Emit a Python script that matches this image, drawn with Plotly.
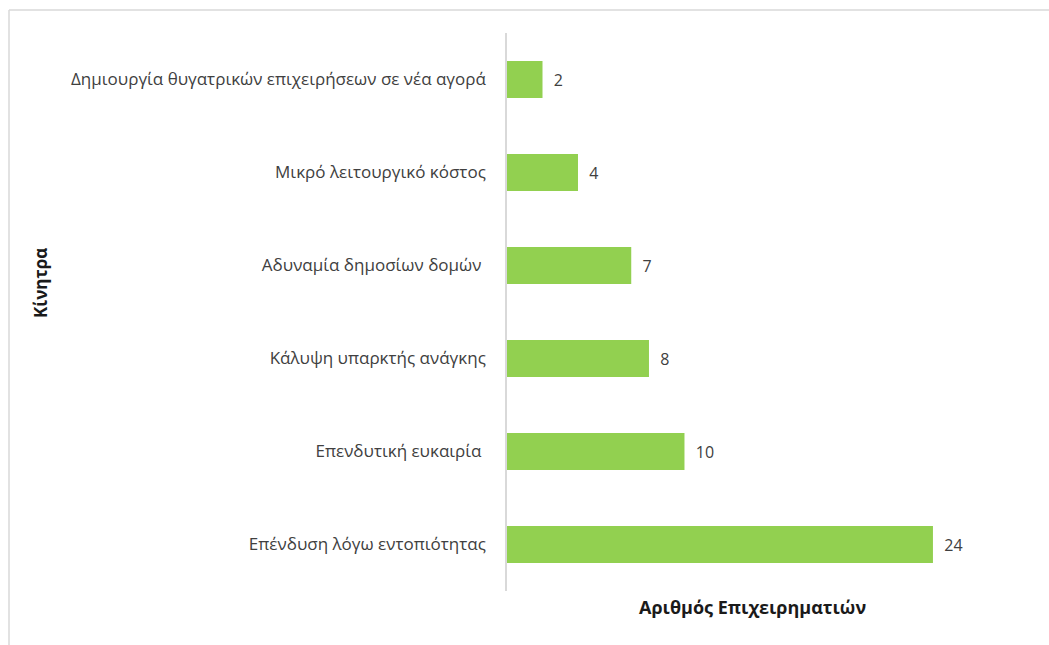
import plotly.graph_objects as go

# Incentives for investing and the number of entrepreneurs citing each
categories = [
    "Δημιουργία θυγατρικών επιχειρήσεων σε νέα αγορά",
    "Μικρό λειτουργικό κόστος",
    "Αδυναμία δημοσίων δομών\u00a0",
    "Κάλυψη υπαρκτής ανάγκης",
    "Επενδυτική ευκαιρία\u00a0",
    "Επένδυση λόγω εντοπιότητας",
]
counts = [2, 4, 7, 8, 10, 24]

x_title = "Αριθμός Επιχειρηματιών"
y_title = "Κίνητρα"

FONT = "Open Sans, Noto Sans, sans-serif"
TEXT = "#404040"
GRID = "#d9d9d9"

X_MAX = 29.75
PLOT_W = 528
PLOT_H = 558

fig = go.Figure(
    go.Bar(
        x=counts,
        y=categories,
        orientation="h",
        marker=dict(color="#92d050", line=dict(width=0)),
        text=["\u00a0\u00a0" + str(v) for v in counts],
        textposition="outside",
        textfont=dict(family=FONT, size=16, color=TEXT),
        cliponaxis=False,
        hoverinfo="skip",
    )
)

fig.update_layout(
    width=1049,
    height=645,
    margin=dict(l=507, r=14, t=33, b=54),
    paper_bgcolor="white",
    plot_bgcolor="white",
    showlegend=False,
    bargap=0.6,
    font=dict(family=FONT, size=14, color=TEXT),
    uniformtext=dict(minsize=16, mode="show"),
    xaxis=dict(
        range=[0, X_MAX],
        showgrid=False,
        zeroline=False,
        showticklabels=False,
        ticks="",
        showline=False,
        fixedrange=True,
    ),
    yaxis=dict(
        autorange="reversed",
        showgrid=False,
        zeroline=False,
        showline=True,
        linecolor=GRID,
        linewidth=1.5,
        ticks="",
        ticklabelstandoff=16,
        tickfont=dict(family=FONT, size=17, color=TEXT),
        fixedrange=True,
    ),
    shapes=[
        # chart frame: top and left edges
        dict(type="line", xref="paper", yref="paper",
             x0=-498 / PLOT_W, x1=1.03, y0=1 + 23 / PLOT_H, y1=1 + 23 / PLOT_H,
             line=dict(color=GRID, width=1.5)),
        dict(type="line", xref="paper", yref="paper",
             x0=-498 / PLOT_W, x1=-498 / PLOT_W, y0=1 + 23 / PLOT_H, y1=-0.2,
             line=dict(color=GRID, width=1.5)),
    ],
    annotations=[
        dict(text=f"<b>{x_title}</b>", xref="paper", yref="paper",
             x=(752 - 507) / PLOT_W, y=-(607 - 591) / PLOT_H,
             xanchor="center", yanchor="middle", showarrow=False,
             font=dict(family=FONT, size=18, color="#1a1a1a")),
        dict(text=f"<b>{y_title}</b>", xref="paper", yref="paper",
             x=-(507 - 40) / PLOT_W, y=(591 - 283) / PLOT_H,
             xanchor="center", yanchor="middle", showarrow=False,
             textangle=-90,
             font=dict(family=FONT, size=17, color="#1a1a1a")),
    ],
)

fig.write_html("out.html")
